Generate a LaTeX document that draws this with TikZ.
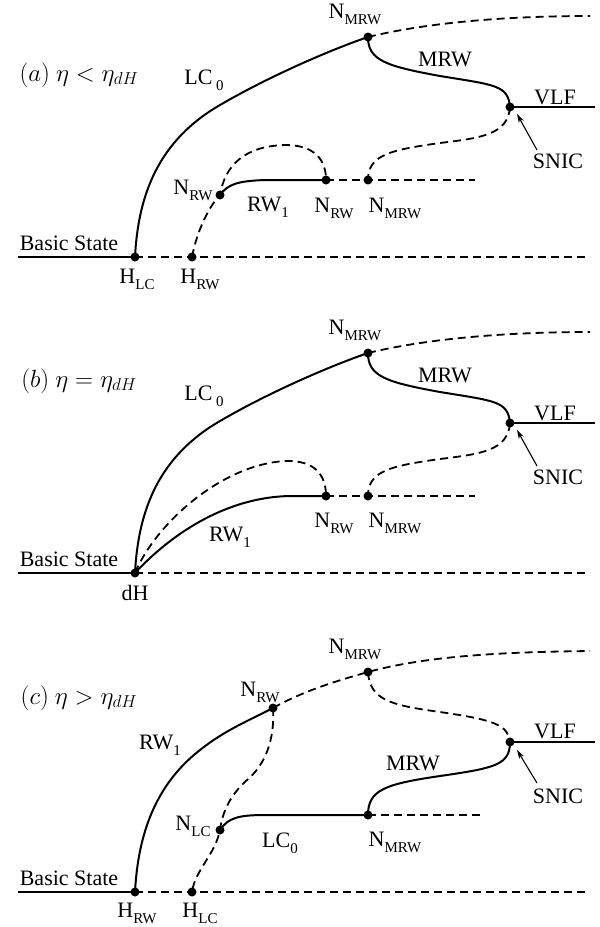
\documentclass[tikz,border=0pt]{standalone}
\usepackage{fontspec}
\setmainfont{Liberation Serif}
\usetikzlibrary{arrows.meta}
\newcommand\sbs[1]{\raisebox{-0.6ex}{\fontsize{15}{15}\selectfont #1}}
\begin{document}
\begin{tikzpicture}[x=1pt,y=-1pt,
  curve/.style={line width=2pt},
  dcurve/.style={line width=1.8pt,dash pattern=on 8pt off 5pt},
  dot/.style={circle,fill=black,inner sep=0pt,minimum size=9pt},
  lbl/.style={inner sep=0pt,font=\fontsize{22}{25}\selectfont},
  mlbl/.style={inner sep=0pt,font=\fontsize{24.5}{28}\selectfont},
  arr/.style={line width=1.1pt,-{Stealth[length=9pt,width=5.5pt]}}]
\useasboundingbox (0,0) rectangle (600,927);
\fill[white] (0,0) rectangle (600,927);

% ================= panel (a) =================
\coordinate (aL) at (18,257);
\coordinate (aHLC) at (135,257);
\coordinate (aHRW) at (192,257);
\coordinate (aR) at (590,257);
\coordinate (aNRW1) at (220,195);
\coordinate (aNRW2) at (326,180);
\coordinate (aNM1) at (368,37);
\coordinate (aNM2) at (368,180);
\coordinate (aS) at (510,107);
\coordinate (aTR) at (590,16);
\coordinate (aVR) at (595,107);
\coordinate (aHR) at (475,180);
\coordinate (aSt) at (537,150);

\draw[curve] (aL) -- (aHLC);
\draw[dcurve] (aHLC) -- (aR);
\draw[curve] (aHLC) .. controls (138,200) and (155,145) .. (215,108) .. controls (265,78) and (330,50) .. (aNM1);
\draw[dcurve] (aNM1) .. controls (430,22) and (510,16) .. (aTR);
\draw[curve] (aNM1) .. controls (368,60) and (385,66) .. (440,76) .. controls (495,85) and (508,85) .. (aS);
\draw[curve] (aS) -- (aVR);
\draw[dcurve] (aS) .. controls (508,135) and (480,138) .. (440,143) .. controls (390,150) and (368,155) .. (aNM2);
\draw[curve] (aNRW1) .. controls (228,184) and (238,181) .. (265,180) -- (aNRW2);
\draw[dcurve] (aNRW2) -- (aHR);
\draw[dcurve] (aHRW) .. controls (197,230) and (210,205) .. (aNRW1) .. controls (225,165) and (245,146) .. (285,145) .. controls (315,145) and (326,160) .. (aNRW2);
\draw[arr] (aSt) -- (517,114);
\foreach \p in {aHLC,aHRW,aNRW1,aNRW2,aNM1,aNM2,aS} \node[dot] at (\p) {};

\node[mlbl] (aT) at (79,75) {$(a)\ \eta<\eta_{dH}$};
\node[lbl] (aLC) at (204,80) {LC\,\sbs{0}};
\node[lbl] (aNMt) at (355,14) {N\sbs{MRW}};
\node[lbl] (aMRW) at (445,59) {MRW};
\node[lbl] (aVLF) at (555,97) {VLF};
\node[lbl] (aSN) at (558,161) {SNIC};
\node[lbl] (aNRWl) at (193,190) {N\sbs{RW}};
\node[lbl] (aRW) at (268,207) {RW\sbs{1}};
\node[lbl] (aNRWb) at (334,208) {N\sbs{RW}};
\node[lbl] (aNMb) at (395,208) {N\sbs{MRW}};
\node[lbl] (aBS) at (69,243) {Basic State};
\node[lbl] (aHl) at (137,279) {H\sbs{LC}};
\node[lbl] (aHr) at (200,279) {H\sbs{RW}};

% ================= panel (b) =================
\coordinate (bL) at (18,573);
\coordinate (bdH) at (135,573);
\coordinate (bR) at (590,573);
\coordinate (bNRW) at (326,496);
\coordinate (bNM1) at (368,353);
\coordinate (bNM2) at (368,496);
\coordinate (bS) at (510,423);
\coordinate (bTR) at (590,332);
\coordinate (bVR) at (595,423);
\coordinate (bHR) at (475,496);
\coordinate (bSt) at (537,466);

\draw[curve] (bL) -- (bdH);
\draw[dcurve] (bdH) -- (bR);
\draw[curve] (bdH) .. controls (138,516) and (155,461) .. (215,424) .. controls (265,394) and (330,366) .. (bNM1);
\draw[dcurve] (bNM1) .. controls (430,338) and (510,332) .. (bTR);
\draw[curve] (bNM1) .. controls (368,376) and (385,382) .. (440,392) .. controls (495,401) and (508,401) .. (bS);
\draw[curve] (bS) -- (bVR);
\draw[dcurve] (bS) .. controls (508,451) and (480,454) .. (440,459) .. controls (390,466) and (368,471) .. (bNM2);
\draw[dcurve] (bdH) .. controls (155,525) and (220,465) .. (285,461) .. controls (315,460) and (326,475) .. (bNRW);
\draw[curve] (bdH) .. controls (175,530) and (230,497) .. (290,496) -- (bNRW);
\draw[dcurve] (bNRW) -- (bHR);
\draw[arr] (bSt) -- (517,430);
\foreach \p in {bdH,bNRW,bNM1,bNM2,bS} \node[dot] at (\p) {};

\node[mlbl] (bT) at (79,381) {$(b)\ \eta=\eta_{dH}$};
\node[lbl] (bLC) at (204,396) {LC\,\sbs{0}};
\node[lbl] (bNMt) at (355,330) {N\sbs{MRW}};
\node[lbl] (bMRW) at (445,375) {MRW};
\node[lbl] (bVLF) at (555,413) {VLF};
\node[lbl] (bSN) at (558,477) {SNIC};
\node[lbl] (bRW) at (230,537) {RW\sbs{1}};
\node[lbl] (bNRWb) at (334,523) {N\sbs{RW}};
\node[lbl] (bNMb) at (395,523) {N\sbs{MRW}};
\node[lbl] (bBS) at (69,559) {Basic State};
\node[lbl] (bdHl) at (135,593) {dH};

% ================= panel (c) =================
\coordinate (cL) at (18,892);
\coordinate (cHRW) at (135,892);
\coordinate (cHLC) at (192,892);
\coordinate (cR) at (590,892);
\coordinate (cNLC) at (220,830);
\coordinate (cNRW) at (273,708);
\coordinate (cNM1) at (368,672);
\coordinate (cNM2) at (368,815);
\coordinate (cS) at (510,742);
\coordinate (cTR) at (590,651);
\coordinate (cVR) at (595,742);
\coordinate (cHR) at (480,815);
\coordinate (cSt) at (537,783);

\draw[curve] (cL) -- (cHRW);
\draw[dcurve] (cHRW) -- (cR);
\draw[curve] (cHRW) .. controls (138,835) and (155,785) .. (200,750) .. controls (225,730) and (250,720) .. (cNRW);
\draw[dcurve] (cNRW) .. controls (305,690) and (340,680) .. (cNM1) .. controls (430,655) and (510,652) .. (cTR);
\draw[dcurve] (cNRW) .. controls (275,740) and (265,765) .. (247,780) .. controls (228,797) and (222,815) .. (cNLC) .. controls (215,855) and (195,870) .. (cHLC);
\draw[curve] (cNLC) .. controls (228,818) and (238,815) .. (265,815) -- (cNM2);
\draw[dcurve] (cNM2) -- (cHR);
\draw[curve] (cNM2) .. controls (368,790) and (385,784) .. (440,776) .. controls (495,768) and (510,765) .. (cS);
\draw[dcurve] (cNM1) .. controls (370,700) and (390,705) .. (440,712) .. controls (495,720) and (508,725) .. (cS);
\draw[curve] (cS) -- (cVR);
\draw[arr] (cSt) -- (517,750);
\foreach \p in {cHRW,cHLC,cNLC,cNRW,cNM1,cNM2,cS} \node[dot] at (\p) {};

\node[mlbl] (cT) at (79,698) {$(c)\ \eta>\eta_{dH}$};
\node[lbl] (cNRWl) at (260,692) {N\sbs{RW}};
\node[lbl] (cNMt) at (355,649) {N\sbs{MRW}};
\node[lbl] (cRW) at (160,745) {RW\sbs{1}};
\node[lbl] (cNLCl) at (193,826) {N\sbs{LC}};
\node[lbl] (cLC) at (280,843) {LC\sbs{0}};
\node[lbl] (cMRW) at (413,763) {MRW};
\node[lbl] (cVLF) at (555,731) {VLF};
\node[lbl] (cSN) at (558,796) {SNIC};
\node[lbl] (cNMb) at (395,842) {N\sbs{MRW}};
\node[lbl] (cBS) at (69,878) {Basic State};
\node[lbl] (cHr) at (137,913) {H\sbs{RW}};
\node[lbl] (cHl) at (200,913) {H\sbs{LC}};
\end{tikzpicture}
\end{document}
